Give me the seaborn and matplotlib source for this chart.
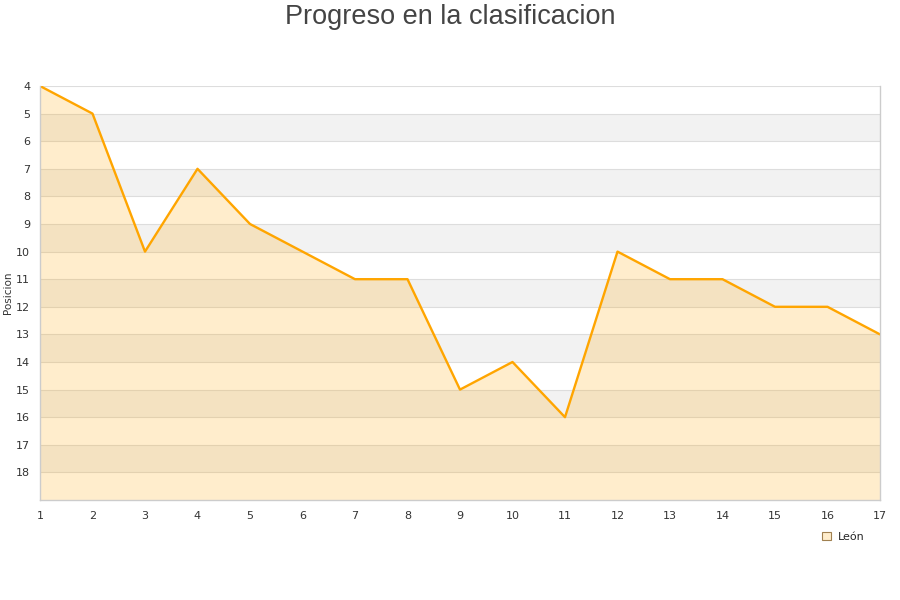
import numpy as np
import pandas as pd
import matplotlib
matplotlib.use("Agg")
import matplotlib.pyplot as plt
from matplotlib.patches import Patch
import seaborn as sns

# jornada vs posicion
jornadas = list(range(1, 18))
posiciones = [4, 5, 10, 7, 9, 10, 11, 11, 15, 14, 16, 10, 11, 11, 12, 12, 13]
equipo = "León"

LINE_COLOR = "#FFA500"
BAND_COLOR = "#F2F2F2"
GRID_COLOR = "#DDDDDD"

sns.set_style("white")
plt.rcParams["font.family"] = ["DejaVu Sans"]

df = pd.DataFrame({"Jornada": jornadas, "Posicion": posiciones})

fig = plt.figure(figsize=(9, 6), dpi=100)
ax = fig.add_axes([40 / 900, 100 / 600, 840 / 900, 414 / 600])

y_min, y_max = 4, 19
# alternating bands
for y in range(5, y_max, 2):
    ax.axhspan(y, y + 1, color=BAND_COLOR, lw=0, zorder=0)
for y in range(y_min, y_max):
    ax.axhline(y, color=GRID_COLOR, lw=0.8, zorder=0.5)

ax.fill_between(df["Jornada"], df["Posicion"], y_max,
                color=LINE_COLOR, alpha=0.2, lw=0, zorder=1)
sns.lineplot(data=df, x="Jornada", y="Posicion", ax=ax,
             color=LINE_COLOR, lw=1.7, zorder=2)

ax.set_xlim(1, 17)
ax.set_ylim(y_max, y_min)
ax.set_xticks(jornadas)
ax.set_yticks(range(4, 19))
ax.tick_params(axis="both", length=0, labelsize=8, colors="#333333")
ax.tick_params(axis="x", pad=8)
ax.tick_params(axis="y", pad=7)
ax.set_xlabel("")
ax.set_ylabel("Posicion", fontsize=7.5, color="#333333", labelpad=2)

for side in ["left", "bottom", "right"]:
    ax.spines[side].set_color("#CCCCCC")
    ax.spines[side].set_linewidth(1)
ax.spines["top"].set_visible(False)

fig.suptitle("Progreso en la clasificacion", fontsize=19.5, color="#444444",
             family=["Liberation Sans", "DejaVu Sans"], y=0.993)

handle = Patch(facecolor="#FFEDCC", edgecolor="#A08050", lw=0.8)
fig.legend([handle], [equipo], loc="center left",
           bbox_to_anchor=(812 / 900, 1 - 537 / 600), frameon=False,
           fontsize=8, handlelength=0.8, handleheight=0.8,
           handletextpad=0.6)

fig.savefig("out.png", dpi=100, facecolor="white")
